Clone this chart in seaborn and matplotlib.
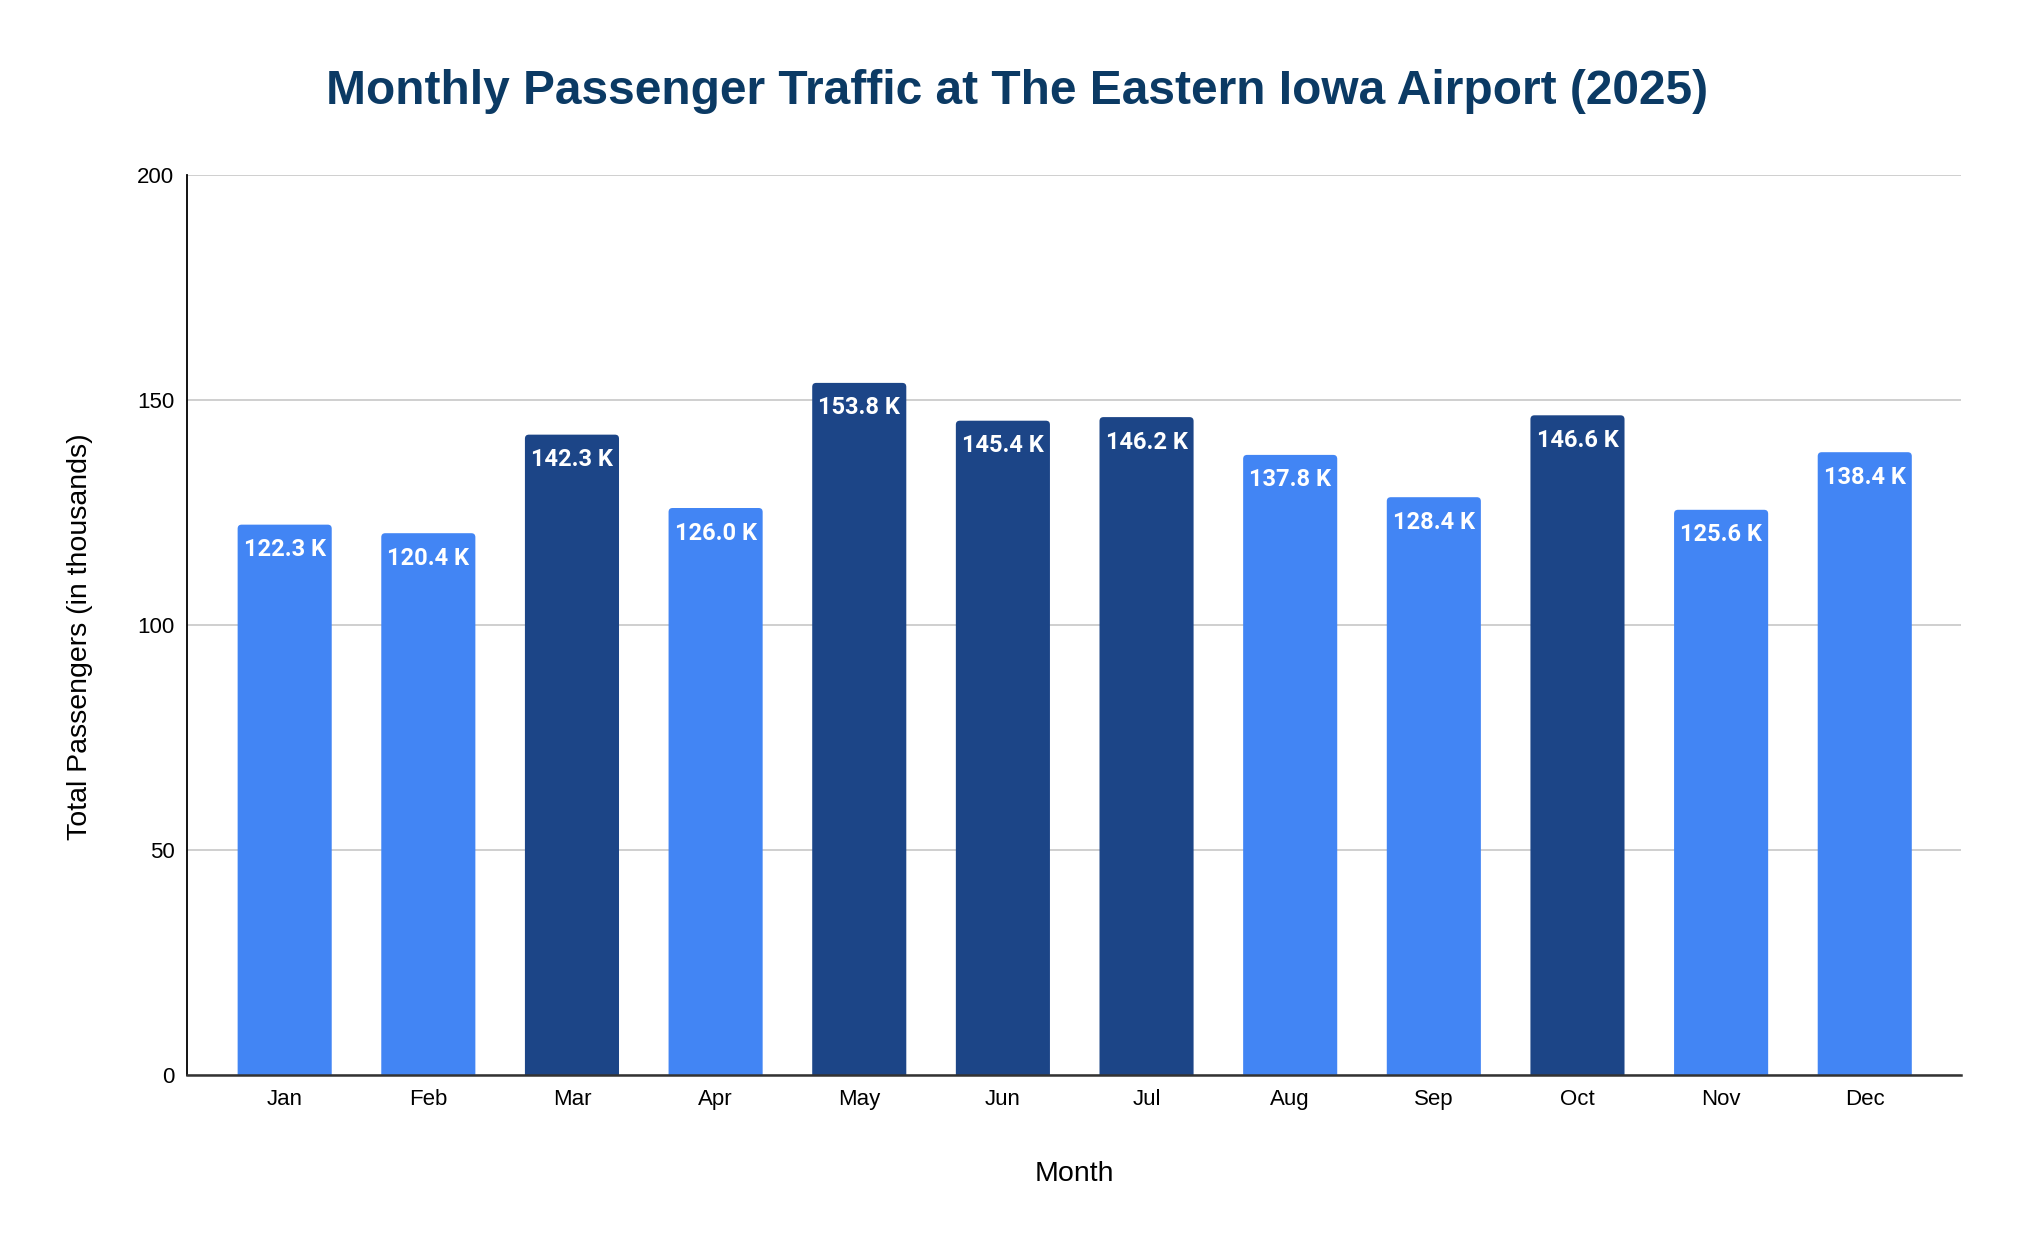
import matplotlib
matplotlib.use("Agg")
import matplotlib.pyplot as plt
from matplotlib.patches import FancyBboxPatch
import seaborn as sns
import pandas as pd

months = ["Jan", "Feb", "Mar", "Apr", "May", "Jun", "Jul", "Aug", "Sep", "Oct", "Nov", "Dec"]
passengers = [122.3, 120.4, 142.3, 126.0, 153.8, 145.4, 146.2, 137.8, 128.4, 146.6, 125.6, 138.4]
y_ticks = [0, 50, 100, 150, 200]

light = "#4285f4"
dark = "#1c4587"
colors = [dark if v > 140 else light for v in passengers]

sns.set_theme(style="white")
plt.rcParams['font.family'] = ['Liberation Sans', 'DejaVu Sans']

df = pd.DataFrame({"Month": months, "Passengers": passengers})

W, H = 2024, 1250
left, right, top, bottom = 187, 1961, 175, 1075
fig = plt.figure(figsize=(W / 100, H / 100), dpi=100)
ax = fig.add_axes([left / W, 1 - bottom / H, (right - left) / W, (bottom - top) / H])

sns.barplot(data=df, x="Month", y="Passengers", hue="Month", palette=colors,
            legend=False, width=0.655, ax=ax, saturation=1)

xlim = (-0.68, len(months) - 1 + 0.67)
ylim = (0, 200)
ax.set_ylim(*ylim)
ax.set_yticks(y_ticks)
ax.set_xlim(*xlim)

# rounded top corners: replace rectangles with rounded boxes
x_per_px = (xlim[1] - xlim[0]) / (right - left)
y_per_px = (ylim[1] - ylim[0]) / (bottom - top)
radius_px = 4
aspect = y_per_px / x_per_px
bars = list(ax.patches)
for p in bars:
    x0, w, h = p.get_x(), p.get_width(), p.get_height()
    ext = radius_px * 1.5 * y_per_px
    fb = FancyBboxPatch((x0, -ext), w, h + ext,
                        boxstyle=f"round,pad=0,rounding_size={radius_px * x_per_px}",
                        mutation_aspect=aspect, facecolor=p.get_facecolor(),
                        edgecolor="none", linewidth=0, zorder=p.get_zorder())
    ax.add_patch(fb)
    p.set_visible(False)

ax.yaxis.grid(True, color="#cccccc", linewidth=1.3)
ax.set_axisbelow(True)
for s in ["top", "right"]:
    ax.spines[s].set_visible(False)
ax.spines["left"].set_color("#000000")
ax.spines["left"].set_linewidth(1.3)
ax.spines["bottom"].set_color("#333333")
ax.spines["bottom"].set_linewidth(1.8)
ax.spines["bottom"].set_zorder(5)
ax.tick_params(axis="both", length=0, labelsize=16, colors="#000000")
ax.tick_params(axis="y", pad=9)
ax.tick_params(axis="x", pad=10)

ax.set_xlabel("Month", fontsize=20.5, color="#000000")
ax.set_ylabel("Total Passengers (in thousands)", fontsize=20.5, color="#000000")
ax.xaxis.set_label_coords(0.5, -(1174 - bottom) / (bottom - top))
ax.xaxis.label.set_va("center")
ax.yaxis.set_label_coords(-(left - 80) / (right - left), 0.5 - 12 / (bottom - top))
ax.yaxis.label.set_va("center")

for p, v in zip(bars, passengers):
    ax.annotate(f"{v:.1f} K", (p.get_x() + p.get_width() / 2, p.get_height()),
                xytext=(0, -18), textcoords="offset points", ha="center", va="center",
                color="white", fontsize=17, fontweight="bold",
                family=["Roboto", "DejaVu Sans"], zorder=6)

fig.text(1017 / W, 1 - 91 / H, "Monthly Passenger Traffic at The Eastern Iowa Airport (2025)",
         ha="center", va="center", fontsize=34.5, fontweight="bold", color="#0b3a64")

fig.savefig("out.png", dpi=100, facecolor="white")
